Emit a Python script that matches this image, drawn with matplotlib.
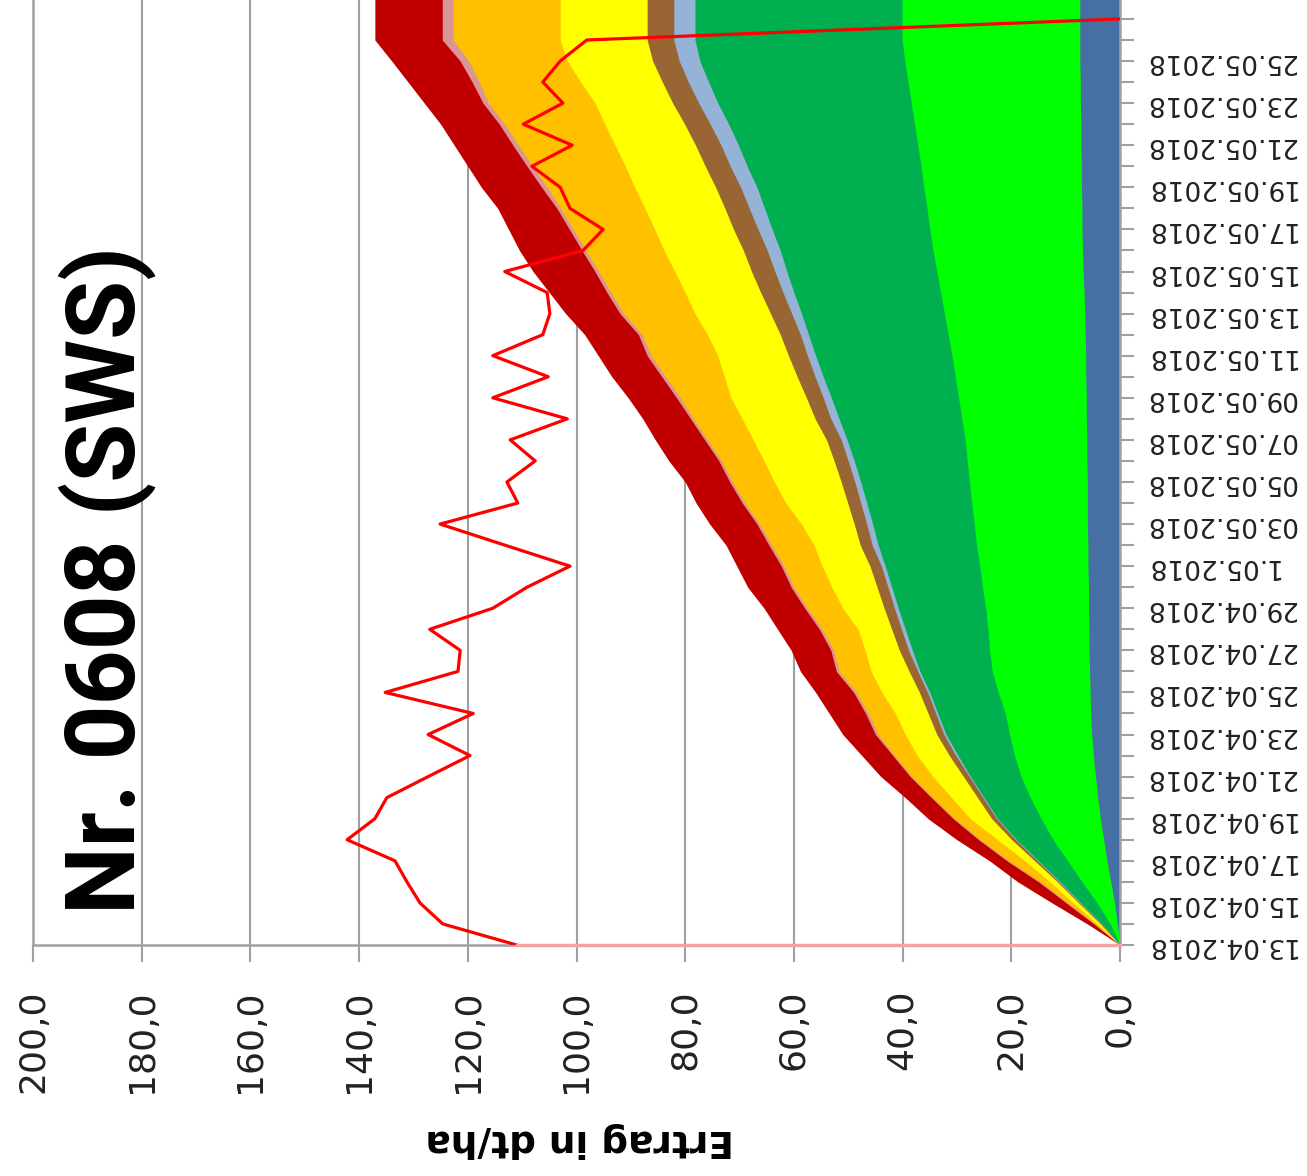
import numpy as np
import matplotlib.pyplot as plt

# Tage ab 13.04.2018 (Index 0) bis 28.05.2018
days = np.arange(46)
date_labels = ["13.04.2018", "15.04.2018", "17.04.2018", "19.04.2018", "21.04.2018",
               "23.04.2018", "25.04.2018", "27.04.2018", "29.04.2018", "1.05.2018",
               "03.05.2018", "05.05.2018", "07.05.2018", "09.05.2018", "11.05.2018",
               "13.05.2018", "15.05.2018", "17.05.2018", "19.05.2018", "21.05.2018",
               "23.05.2018", "25.05.2018"]

# gestapelte Flaechen (dt/ha je Schicht), von innen nach aussen
blue = [0, 0.5, 1.0, 1.7, 2.4, 3.0, 3.6, 4.1, 4.5, 4.9, 5.2, 5.4, 5.5, 5.6, 5.7, 5.7,
        5.8, 5.8, 5.9, 5.9, 6.0, 6.0, 6.0, 6.1, 6.1, 6.2, 6.2, 6.3, 6.3, 6.4, 6.5, 6.6,
        6.8, 6.9, 7.0, 7.0, 7.1, 7.1, 7.2, 7.2, 7.3, 7.3, 7.4, 7.4, 7.4, 7.4]
light_green = [0, 1.3, 3.2, 5.3, 7.2, 9.3, 10.9, 12.4, 13.7, 14.5, 15.1, 15.7, 16.9, 17.9,
               18.3, 18.6, 18.9, 19.5, 19.9, 20.5, 20.8, 21.3, 21.7, 22.0, 22.4, 22.9, 23.5,
               24.0, 24.6, 25.2, 25.8, 26.4, 26.9, 27.5, 28.0, 28.5, 29.0, 29.5, 30.0, 30.6,
               31.1, 31.7, 32.2, 32.7, 32.7, 32.7]
dark_green = [0, 1.5, 3.0, 4.0, 5.4, 6.7, 8.0, 8.5, 9.3, 10.4, 11.7, 12.4, 12.6, 13.3, 14.2,
              15.2, 16.1, 16.7, 17.4, 18.1, 18.7, 19.3, 20.0, 20.8, 21.7, 22.6, 23.4, 24.3,
              25.1, 25.7, 26.3, 27.0, 27.6, 28.1, 29.0, 29.9, 30.7, 32.0, 33.0, 34.2, 35.6,
              36.7, 37.7, 38.1, 38.1, 38.1]
light_blue = [0, 0.1, 0.2, 0.2, 0.2, 0.2, 0.2, 0.2, 0.2, 0.4, 0.4, 0.4, 0.4, 0.4, 0.7, 0.7,
              0.7, 0.7, 0.7, 1.1, 1.1, 1.1, 1.1, 1.1, 1.1, 1.5, 1.5, 1.5, 1.5, 1.5, 1.8, 2.0,
              2.2, 2.4, 2.6, 2.8, 3.0, 3.1, 3.2, 3.4, 3.5, 3.7, 3.8, 3.9, 3.9, 3.9]
brown = [0, 0.2, 0.2, 0.3, 0.5, 0.7, 0.9, 1.0, 1.1, 1.2, 1.3, 1.4, 1.5, 1.6, 1.7, 1.8, 1.9,
         2.0, 2.1, 2.2, 2.3, 2.4, 2.5, 2.6, 2.7, 2.9, 3.1, 3.3, 3.5, 3.7, 3.9, 4.1, 4.3, 4.4,
         4.5, 4.5, 4.6, 4.6, 4.7, 4.7, 4.8, 4.8, 4.9, 4.9, 4.9, 4.9]
yellow = [0, 0.6, 1.0, 1.4, 1.8, 2.6, 3.9, 4.8, 5.6, 5.9, 5.8, 6.0, 6.9, 7.0, 6.3, 6.2, 7.6,
          8.3, 8.8, 8.5, 9.7, 11.4, 12.3, 12.9, 13.5, 13.4, 13.9, 13.4, 13.0, 13.4, 13.9,
          13.9, 14.1, 14.6, 14.5, 14.7, 14.9, 14.7, 14.8, 14.7, 14.3, 15.0, 15.7, 16.0,
          16.0, 16.0]
orange = [0, 0.4, 1.0, 1.8, 3.0, 3.2, 2.9, 3.4, 3.9, 4.2, 5.0, 5.0, 4.7, 5.9, 5.8, 6.6, 6.5,
          7.0, 7.0, 7.8, 7.7, 7.5, 7.7, 7.8, 8.4, 9.0, 9.3, 10.8, 12.3, 12.0, 13.1, 13.7,
          14.0, 14.4, 15.0, 15.5, 16.1, 17.1, 17.8, 18.4, 19.6, 18.7, 18.1, 19.7, 19.7, 19.7]
pink = [0, 0.2, 0.3, 0.3, 0.3, 0.3, 0.3, 0.3, 0.3, 0.3, 0.5, 0.5, 0.5, 0.5, 0.5, 0.5, 0.5,
        0.5, 0.5, 0.5, 0.5, 0.5, 0.5, 0.5, 0.5, 0.5, 0.7, 0.7, 0.7, 0.7, 0.7, 0.7, 0.7, 0.7,
        0.7, 0.7, 1.0, 1.0, 1.0, 1.0, 1.0, 1.3, 1.6, 2.0, 2.0, 2.0]
dark_red = [0, 1.2, 2.6, 3.8, 3.2, 4.0, 4.6, 4.8, 5.4, 5.7, 6.0, 6.7, 7.0, 6.6, 7.3, 7.7,
            7.5, 8.0, 8.2, 7.9, 8.7, 8.5, 8.2, 9.2, 9.1, 8.8, 8.9, 9.2, 9.0, 9.9, 10.0, 10.6,
            11.4, 11.5, 11.2, 10.9, 11.1, 10.9, 10.8, 10.8, 10.8, 11.8, 12.6, 12.4, 12.4, 12.4]

# rote Linie (Tag 0 bis 44)
red_line = [111.0, 124.6, 128.8, 131.2, 133.4, 142.2, 137.1, 134.9, 127.3, 119.6,
            127.3, 119.0, 135.2, 121.8, 121.4, 127.0, 115.4, 109.1, 101.2, 113.2,
            125.1, 110.8, 112.8, 107.6, 112.2, 101.7, 115.4, 105.2, 115.4, 106.2,
            104.9, 105.4, 113.2, 98.8, 95.1, 101.2, 103.0, 108.2, 100.8, 109.8,
            102.5, 106.2, 103.0, 98.1, 0.0]

layers = [blue, light_green, dark_green, light_blue, brown, yellow, orange, pink, dark_red]
colors = ['#4670A3', '#00FF00', '#00B050', '#95B3D7', '#996633',
          '#FFFF00', '#FFC000', '#D99694', '#C00000']
grid_col = '#A0A0A0'

fig = plt.figure(figsize=(13.07, 11.76), dpi=100)
ax = fig.add_axes([33 / 1307, 231 / 1176, 1087 / 1307, 945 / 1176])

# stacked areas, drawn from the outer layer inwards
tops = np.cumsum(np.array(layers, dtype=float), axis=0)
for top, c in reversed(list(zip(tops, colors))):
    ax.fill_betweenx(days, 0, top, color=c, lw=0)

ax.plot(red_line, days[:len(red_line)], color='#FF0000', lw=2.3, zorder=3)
ax.plot([0, red_line[0]], [days[0], days[0]], color='#F4A3A3', lw=2.5,
        zorder=3, clip_on=False)

ax.set_xlim(200, 0)
ax.set_ylim(0, 44.9)

# value axis (bottom)
xt = np.arange(0, 201, 20)
ax.set_xticks(xt)
ax.set_xticklabels([f"{v:.1f}".replace('.', ',') for v in xt],
                   rotation=90, fontsize=26, color='#222222')
ax.tick_params(axis='x', direction='out', length=12, width=1.5, color=grid_col, pad=20)
ax.xaxis.grid(True, color=grid_col, lw=1.5)
ax.set_axisbelow(True)

# date axis (right)
ax.yaxis.tick_right()
major = np.arange(0, 43, 2)
ax.set_yticks(major)
ax.set_yticks([d for d in range(45) if d not in major], minor=True)
ax.set_yticklabels(date_labels, rotation=180, fontsize=19, color='#222222',
                   ha='left', va='center')
ax.tick_params(axis='y', which='both', direction='out', length=10, width=1.5,
               color=grid_col, pad=8)

ax.spines['top'].set_visible(False)
for s in ['left', 'right', 'bottom']:
    ax.spines[s].set_color(grid_col)
    ax.spines[s].set_linewidth(1.8)

fig.text(580 / 1307, 1 - 1140 / 1176, 'Ertrag in dt/ha', rotation=180,
         fontsize=27, fontweight='bold', ha='center', va='center')
fig.text(107 / 1307, 1 - 580 / 1176, 'Nr. 0608 (SWS)', rotation=90,
         fontsize=69, fontweight='bold', family='Roboto', ha='center', va='center')

fig.savefig('out.png', dpi=100)
